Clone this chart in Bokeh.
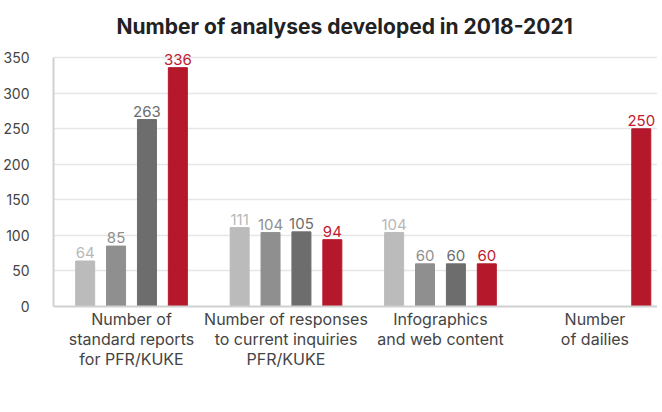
from bokeh.plotting import figure
from bokeh.models import ColumnDataSource, Legend, LegendItem, FixedTicker, Range1d
from bokeh.embed import file_html
from bokeh.resources import INLINE

categories = [
    "Number of\nstandard reports\nfor PFR/KUKE",
    "Number of responses\nto current inquiries\nPFR/KUKE",
    "Infographics\nand web content",
    "Number\nof dailies",
]
years = ["2018", "2019", "2020", "2021"]
values_2018 = [64, 111, 104, None]
values_2019 = [85, 104, 60, None]
values_2020 = [263, 105, 60, None]
values_2021 = [336, 94, 60, 250]
y_ticks = [0, 50, 100, 150, 200, 250, 300, 350]

series = [values_2018, values_2019, values_2020, values_2021]
bar_colors = ["#bbbbbb", "#8f8f8f", "#6d6d6d", "#b5182b"]
label_colors = ["#b8b8b8", "#8f8f8f", "#6d6d6d", "#c01a2e"]
offsets = [-0.3, -0.1, 0.1, 0.3]
FONT = "Inter"

p = figure(frame_width=604, frame_height=263, output_backend="svg", toolbar_location=None,
           x_range=Range1d(-0.505, 3.405), y_range=Range1d(0, 370),
           min_border_left=42, min_border_right=0, min_border_top=43,
           min_border_bottom=0,
           title="Number of analyses developed in 2018-2021")
p.title.align = "left"
p.title.offset = 63
p.title.text_font = FONT
p.title.text_font_size = "21px"
p.title.text_font_style = "bold"
p.title.text_color = "#222222"
p.outline_line_color = None
p.background_fill_color = "white"
p.border_fill_color = "white"

items = []
for yr, vals, col, lcol, off in zip(years, series, bar_colors, label_colors, offsets):
    xs = [i + off for i, v in enumerate(vals) if v is not None]
    ys = [v for v in vals if v is not None]
    src = ColumnDataSource(dict(x=xs, top=ys, lab=[str(v) for v in ys]))
    r = p.vbar(x="x", top="top", width=0.123, color=col, source=src)
    p.text(x="x", y="top", text="lab", source=src, text_align="center",
           text_baseline="bottom", y_offset=-3, text_font_size="15px",
           text_color=lcol, text_font={"value": FONT})
    items.append(LegendItem(label=yr, renderers=[r]))

p.yaxis.ticker = FixedTicker(ticks=y_ticks)
p.yaxis.bounds = (0, 350)
p.yaxis.major_tick_line_color = None
p.yaxis.minor_tick_line_color = None
p.yaxis.axis_line_color = "#d0d0d0"
p.yaxis.axis_line_width = 2
p.yaxis.major_label_text_font = FONT
p.yaxis.major_label_text_font_size = "14px"
p.yaxis.major_label_text_color = "#444444"
p.yaxis.major_label_standoff = 18

p.xaxis.ticker = FixedTicker(ticks=list(range(len(categories))))
p.xaxis.major_label_overrides = {i: c for i, c in enumerate(categories)}
p.xaxis.major_tick_line_color = None
p.xaxis.minor_tick_line_color = None
p.xaxis.axis_line_color = "#d0d0d0"
p.xaxis.axis_line_width = 2
p.xaxis.major_label_text_font = FONT
p.xaxis.major_label_text_font_size = "16px"
p.xaxis.major_label_text_line_height = 1.0
p.xaxis.major_label_text_color = "#444444"
p.xaxis.major_label_standoff = -4

p.xgrid.grid_line_color = None
p.ygrid.ticker = FixedTicker(ticks=y_ticks)
p.ygrid.grid_line_color = "#e6e6e6"
p.ygrid.grid_line_width = 1.5

legend = Legend(items=items, orientation="horizontal", location=(158, 22),
                glyph_width=10, glyph_height=12, label_text_font=FONT,
                label_text_font_size="16px", label_text_color="#444444",
                spacing=20, label_standoff=4, padding=0, margin=0,
                border_line_color=None, background_fill_alpha=0)
p.add_layout(legend, "below")

open("out.html", "w").write(file_html(p, INLINE))
